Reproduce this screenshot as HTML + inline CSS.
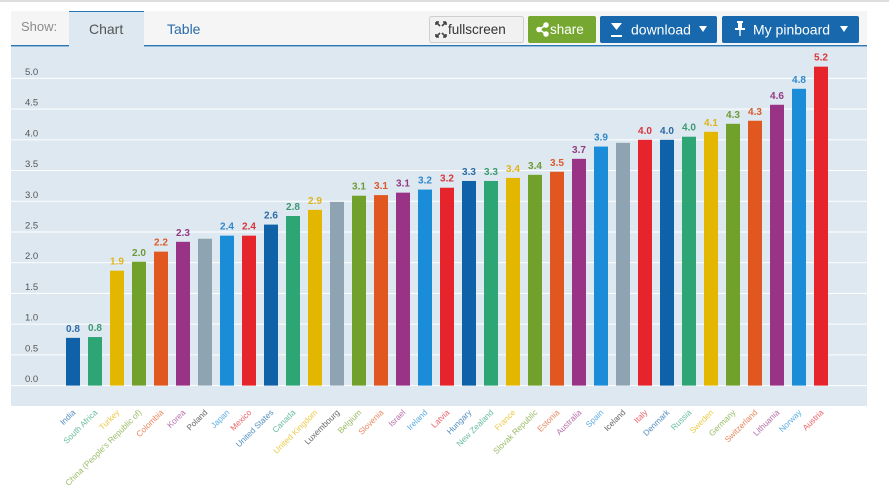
<!DOCTYPE html>
<html><head><meta charset="utf-8">
<style>
html,body{margin:0;padding:0;background:#fff;}
body{width:889px;height:494px;overflow:hidden;font-family:"Liberation Sans",sans-serif;}
</style></head>
<body>
<svg width="889" height="494" viewBox="0 0 889 494" xmlns="http://www.w3.org/2000/svg" font-family="Liberation Sans, sans-serif">
  <rect x="0" y="0" width="889" height="2" fill="#dedede"/>
  <rect x="11" y="11" width="856" height="35" fill="#f5f5f5"/>
  <rect x="69" y="11" width="75" height="36" fill="#dde8f0"/>
  <rect x="69" y="11" width="75" height="1" fill="#2a77b4"/>
  <rect x="11" y="45" width="58" height="1.5" fill="#2a77b4"/>
  <rect x="144" y="45" width="723" height="1.5" fill="#2a77b4"/>
  <text x="21" y="31" font-size="13" fill="#8a8a8a">Show:</text>
  <text x="89" y="34" font-size="14" fill="#555">Chart</text>
  <text x="167" y="34" font-size="14" fill="#2a6ca8">Table</text>

  <rect x="429.5" y="16.5" width="94" height="26" rx="2" fill="#f1f1f1" stroke="#cfcfcf"/>
  <g stroke="#444" stroke-width="1.6" fill="none">
    <path d="M436 22 L440 26 M436 22 h3 M436 22 v3"/>
    <path d="M446 22 L442 26 M446 22 h-3 M446 22 v3"/>
    <path d="M436 37 L440 33 M436 37 h3 M436 37 v-3"/>
    <path d="M446 37 L442 33 M446 37 h-3 M446 37 v-3"/>
  </g>
  <text x="448" y="34" font-size="13.5" fill="#333">fullscreen</text>
  <rect x="528" y="16" width="68" height="27" rx="2" fill="#76a831"/>
  <g fill="#fff" stroke="#fff" stroke-width="1.5">
    <circle cx="539" cy="29.5" r="2"/>
    <circle cx="546" cy="25" r="2"/>
    <circle cx="546" cy="34" r="2"/>
    <path d="M539 29.5 L546 25 M539 29.5 L546 34"/>
  </g>
  <text x="550" y="34" font-size="13.5" fill="#fff">share</text>
  <rect x="600" y="16" width="117" height="27" rx="2" fill="#1768ac"/>
  <rect x="611" y="35" width="11" height="2" fill="#fff"/>
  <path d="M611 23 L616.5 30 L622 23 Z" fill="#fff"/>
  <text x="631" y="34.5" font-size="14" fill="#fff">download</text>
  <path d="M699 26 L707 26 L703 32 Z" fill="#fff"/>
  <rect x="722" y="16" width="137" height="27" rx="2" fill="#1768ac"/>
  <g fill="#fff">
    <rect x="737" y="21" width="6" height="2"/>
    <rect x="738" y="23" width="4" height="5"/>
    <rect x="735" y="28" width="10" height="2"/>
    <rect x="739.3" y="30" width="1.4" height="6"/>
  </g>
  <text x="753" y="34.5" font-size="14" fill="#fff">My pinboard</text>
  <path d="M840 26 L848 26 L844 32 Z" fill="#fff"/>

  <rect x="11" y="47" width="856" height="359" fill="#dde8f0"/>

  <g id="grid" fill="#555" font-size="9.5"></g>
  <g id="bars"></g>
  <g id="xl" font-size="8.2"></g>
</svg>
<script>
(function(){
var ns="http://www.w3.org/2000/svg";
var y0=385.6,k=61.45;
var grid=document.getElementById('grid');
for(var i=0;i<=10;i++){
  var v=i*0.5, y=y0-v*k;
  var r=document.createElementNS(ns,'rect');
  r.setAttribute('x',11);r.setAttribute('y',(y-0.5).toFixed(2));r.setAttribute('width',856);r.setAttribute('height',1);r.setAttribute('fill','#ffffff');
  grid.appendChild(r);
  var t=document.createElementNS(ns,'text');
  t.setAttribute('x',25);t.setAttribute('y',(y-3.5).toFixed(2));t.textContent=v.toFixed(1);
  grid.appendChild(t);
}
var C={db:['#0f62a8','#2b6aa6'],te:['#2ea574','#3a9a72'],ye:['#e3b600','#e0b41a'],ol:['#71a12b','#6f9a33'],
or:['#e0571f','#dc5a2a'],pu:['#993386','#933a84'],gr:['#8fa4b2','#555'],lb:['#1b8cd8','#2f88cc'],re:['#e5242c','#d9343a']};
var D=[["India",0.777,"0.8","db"],["South Africa",0.79,"0.8","te"],["Turkey",1.87,"1.9","ye"],
["China (People's Republic of)",2.015,"2.0","ol"],["Colombia",2.18,"2.2","or"],["Korea",2.34,"2.3","pu"],
["Poland",2.39,"","gr"],["Japan",2.44,"2.4","lb"],["Mexico",2.44,"2.4","re"],["United States",2.62,"2.6","db"],
["Canada",2.76,"2.8","te"],["United Kingdom",2.86,"2.9","ye"],["Luxembourg",2.99,"","gr"],["Belgium",3.09,"3.1","ol"],
["Slovenia",3.10,"3.1","or"],["Israel",3.14,"3.1","pu"],["Ireland",3.19,"3.2","lb"],["Latvia",3.22,"3.2","re"],
["Hungary",3.33,"3.3","db"],["New Zealand",3.33,"3.3","te"],["France",3.38,"3.4","ye"],["Slovak Republic",3.43,"3.4","ol"],
["Estonia",3.48,"3.5","or"],["Australia",3.69,"3.7","pu"],["Spain",3.89,"3.9","lb"],["Iceland",3.95,"","gr"],
["Italy",4.00,"4.0","re"],["Denmark",4.00,"4.0","db"],["Russia",4.05,"4.0","te"],["Sweden",4.13,"4.1","ye"],
["Germany",4.26,"4.3","ol"],["Switzerland",4.31,"4.3","or"],["Lithuania",4.57,"4.6","pu"],["Norway",4.83,"4.8","lb"],
["Austria",5.19,"5.2","re"]];
var bars=document.getElementById('bars'),xl=document.getElementById('xl');
for(var i=0;i<D.length;i++){
  var d=D[i],c=73+22*i,top=y0-d[1]*k,col=C[d[3]];
  var r=document.createElementNS(ns,'rect');
  r.setAttribute('x',c-7);r.setAttribute('y',top.toFixed(2));r.setAttribute('width',14);r.setAttribute('height',(y0-top).toFixed(2));r.setAttribute('fill',col[0]);
  bars.appendChild(r);
  if(d[2]){
    var t=document.createElementNS(ns,'text');
    t.setAttribute('x',c);t.setAttribute('y',(top-6).toFixed(2));t.setAttribute('text-anchor','middle');
    t.setAttribute('font-size','10');t.setAttribute('font-weight','bold');t.setAttribute('fill',col[1]);
    t.textContent=d[2];bars.appendChild(t);
  }
  var l=document.createElementNS(ns,'text');
  var lx=c+3,ly=413;
  l.setAttribute('x',lx);l.setAttribute('y',ly);l.setAttribute('text-anchor','end');
  l.setAttribute('transform','rotate(-45 '+lx+' '+ly+')');
  l.setAttribute('fill',col[d[3]=='gr'?1:0]);l.setAttribute('fill-opacity',d[3]=='gr'?'0.9':'0.72');
  l.textContent=d[0];xl.appendChild(l);
}
})();
</script>
</body></html>
